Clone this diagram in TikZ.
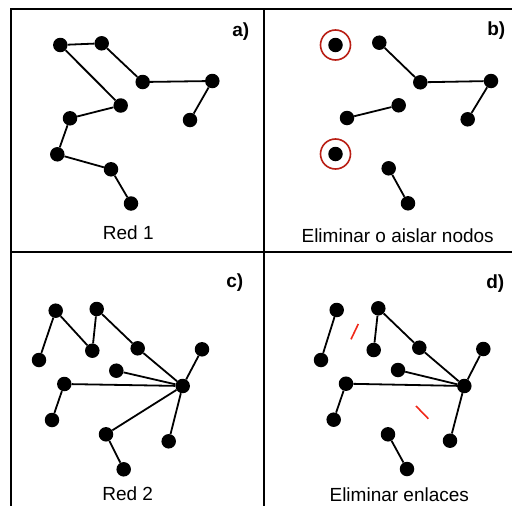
\documentclass[tikz,border=0pt]{standalone}
\usepackage{fontspec}
\setmainfont{Liberation Sans}
\begin{document}
\begin{tikzpicture}[x=1pt,y=-1pt,
  dot/.style={circle,fill=black,inner sep=0pt,minimum size=14.5pt},
  edge/.style={line width=1.8pt,black},
  frame/.style={line width=2pt,black},
  ring/.style={circle,draw=ringred,line width=1.6pt,inner sep=0pt,minimum size=30pt},
  cut/.style={line width=1.6pt,cutred},
  caption/.style={anchor=base,font=\fontsize{19}{22}\selectfont,inner sep=0pt},
  tag/.style={anchor=base east,font=\fontsize{19}{22}\selectfont\bfseries,inner sep=0pt}]
\definecolor{ringred}{RGB}{185,30,20}
\definecolor{cutred}{RGB}{240,40,25}
\useasboundingbox (0,0) rectangle (512,506);
\fill[white] (0,0) rectangle (512,506);
% frame
\coordinate (tl) at (11,8.5);
\coordinate (tr) at (512,8.5);
\coordinate (bl) at (11,506);
\coordinate (mt) at (264,8.5);
\coordinate (mb) at (264,506);
\coordinate (ml) at (11,252);
\coordinate (mr) at (512,252);
\draw[frame] (tr) -- (tl) -- (bl);
\draw[frame] (mt) -- (mb);
\draw[frame] (ml) -- (mr);
% panel a
\node[dot] (a1) at (60.3,45) {};
\node[dot] (a2) at (101.7,43.3) {};
\node[dot] (a3) at (142.7,82) {};
\node[dot] (a4) at (212.3,81) {};
\node[dot] (a5) at (190,120) {};
\node[dot] (a6) at (120.7,105.5) {};
\node[dot] (a7) at (70,118.3) {};
\node[dot] (a8) at (57.3,154.3) {};
\node[dot] (a9) at (111,169.3) {};
\node[dot] (a10) at (131,203.5) {};
\draw[edge] (a1) -- (a2) -- (a3) -- (a4) -- (a5);
\draw[edge] (a1) -- (a6) -- (a7) -- (a8) -- (a9) -- (a10);
\node[tag] (la) at (249.5,36.5) {a)};
\node[caption] (ca) at (128.3,239.5) {Red 1};
% panel b
\node[dot] (b1) at (335.5,45) {};
\node[ring] (r1) at (335.5,45) {};
\node[dot] (b2) at (379.3,42.7) {};
\node[dot] (b3) at (420.3,82.3) {};
\node[dot] (b4) at (491,81) {};
\node[dot] (b5) at (467.7,119.3) {};
\node[dot] (b6) at (398.7,105.3) {};
\node[dot] (b7) at (347,118) {};
\node[dot] (b8) at (335.5,154) {};
\node[ring] (r2) at (335.5,154) {};
\node[dot] (b9) at (388.7,168.3) {};
\node[dot] (b10) at (408,203.3) {};
\draw[edge] (b2) -- (b3) -- (b4) -- (b5);
\draw[edge] (b6) -- (b7);
\draw[edge] (b9) -- (b10);
\node[tag] (lb) at (505.5,35.5) {b)};
\node[caption] (cb) at (397.7,242) {Eliminar o aislar nodos};
% panel c
\node[dot] (c1) at (55.7,310.7) {};
\node[dot] (c2) at (39,360) {};
\node[dot] (c3) at (96.7,309) {};
\node[dot] (c4) at (92.3,350.7) {};
\node[dot] (c5) at (137.7,348.3) {};
\node[dot] (c6) at (202,349.3) {};
\node[dot] (c7) at (116.3,370.7) {};
\node[dot] (c8) at (182.7,386) {};
\node[dot] (c9) at (64.3,384) {};
\node[dot] (c10) at (52,420) {};
\node[dot] (c11) at (106,434.3) {};
\node[dot] (c12) at (123.7,469.3) {};
\node[dot] (c13) at (168.7,441.3) {};
\draw[edge] (c2) -- (c1) -- (c4) -- (c3) -- (c5) -- (c8);
\draw[edge] (c7) -- (c8);
\draw[edge] (c6) -- (c8);
\draw[edge] (c10) -- (c9) -- (c8);
\draw[edge] (c12) -- (c11) -- (c8);
\draw[edge] (c8) -- (c13);
\node[tag] (lc) at (243.5,287.5) {c)};
\node[caption] (cc) at (127.7,500.5) {Red 2};
% panel d
\node[dot] (d1) at (336.7,310) {};
\node[dot] (d2) at (321,360) {};
\node[dot] (d3) at (378.3,308.3) {};
\node[dot] (d4) at (373.7,350) {};
\node[dot] (d5) at (419.3,347.7) {};
\node[dot] (d6) at (483.3,349) {};
\node[dot] (d7) at (398,370) {};
\node[dot] (d8) at (464.3,386) {};
\node[dot] (d9) at (346,383.7) {};
\node[dot] (d10) at (333.7,419.7) {};
\node[dot] (d11) at (388,434.3) {};
\node[dot] (d12) at (407,469) {};
\node[dot] (d13) at (450,440.7) {};
\draw[edge] (d1) -- (d2);
\draw[edge] (d4) -- (d3) -- (d5) -- (d8);
\draw[edge] (d7) -- (d8);
\draw[edge] (d6) -- (d8);
\draw[edge] (d10) -- (d9) -- (d8);
\draw[edge] (d8) -- (d13);
\draw[edge] (d11) -- (d12);
\coordinate (x1a) at (351,339.3);
\coordinate (x1b) at (358.3,324);
\coordinate (x2a) at (416,406);
\coordinate (x2b) at (428.3,418.7);
\draw[cut] (x1a) -- (x1b);
\draw[cut] (x2a) -- (x2b);
\node[tag] (ld) at (504.5,288) {d)};
\node[caption] (cd) at (399.3,501) {Eliminar enlaces};
\end{tikzpicture}
\end{document}
